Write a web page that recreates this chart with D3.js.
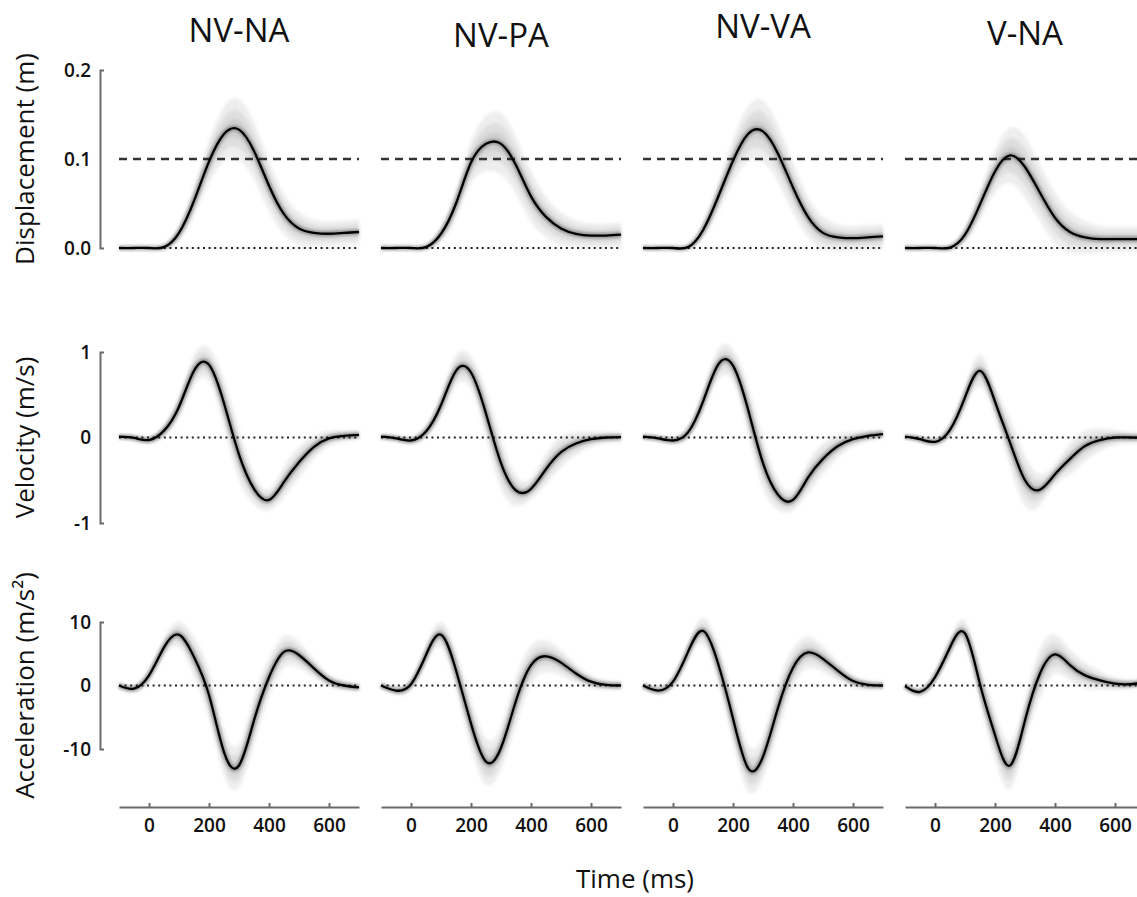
<!DOCTYPE html>
<html>
<head>
<meta charset="utf-8">
<script src="https://cdn.jsdelivr.net/npm/d3@7"></script>
<style>
  body { margin: 0; background: #fff; }
  svg { display: block; font-family: "Open Sans", sans-serif; }
</style>
</head>
<body>
<svg id="chart" width="1137" height="897"></svg>
<script>
/* SECTION: data */

var conditions = ["NV-NA", "NV-PA", "NV-VA", "V-NA"];
var timeMs = [-100, -50, 0, 50, 100, 150, 200, 250, 300, 350, 400, 450, 500, 550, 600, 650, 700];
var timeTicks = [0, 200, 400, 600];

// mean displacement (m)
var dispNVNA = [0, 0, 0, 0.001, 0.017, 0.053, 0.097, 0.128, 0.133, 0.109, 0.070, 0.038, 0.022, 0.017, 0.016, 0.017, 0.018];
var dispNVPA = [0, 0, 0, 0.001, 0.016, 0.050, 0.096, 0.117, 0.117, 0.093, 0.058, 0.035, 0.022, 0.016, 0.014, 0.014, 0.015];
var dispNVVA = [0, 0, 0, 0.001, 0.020, 0.057, 0.098, 0.128, 0.131, 0.106, 0.068, 0.035, 0.017, 0.012, 0.011, 0.012, 0.013];
var dispVNA  = [0, 0, 0, 0.0005, 0.015, 0.049, 0.086, 0.104, 0.091, 0.062, 0.034, 0.018, 0.012, 0.010, 0.010, 0.010, 0.010];

// mean velocity (m/s)
var velNVNA = [0.01, -0.005, -0.03, 0.08, 0.36, 0.78, 0.85, 0.40, -0.20, -0.60, -0.73, -0.52, -0.29, -0.11, -0.01, 0.02, 0.03];
var velNVPA = [0.01, -0.01, -0.035, 0.07, 0.38, 0.78, 0.76, 0.28, -0.30, -0.62, -0.60, -0.37, -0.17, -0.07, -0.02, 0, 0.005];
var velNVVA = [0.01, -0.01, -0.035, 0.06, 0.42, 0.85, 0.84, 0.33, -0.30, -0.67, -0.73, -0.47, -0.25, -0.10, -0.02, 0.02, 0.04];
var velVNA  = [0.01, -0.02, -0.05, 0.09, 0.47, 0.78, 0.42, -0.06, -0.50, -0.61, -0.43, -0.25, -0.10, -0.03, 0, 0, 0];

// mean acceleration (m/s²)
var accNVNA = [0, -0.5, 1.6, 6.0, 8.0, 4.5, -1.5, -10.5, -12.6, -5.5, 1.3, 5.3, 4.8, 2.7, 0.8, 0, -0.3];
var accNVPA = [0, -0.8, 0.2, 4.8, 8.0, 2.4, -6.0, -12.0, -9.8, -2.4, 3.2, 4.6, 3.6, 1.9, 0.6, 0.1, 0];
var accNVVA = [0, -0.8, 0.6, 5.3, 8.6, 3.5, -5.2, -13.0, -11.2, -3.5, 2.8, 5.2, 4.2, 2.3, 0.7, 0.1, 0];
var accVNA  = [-0.1, -1.0, 1.3, 6.0, 8.2, 0.2, -7.8, -12.6, -5.5, 1.9, 4.9, 3.2, 1.6, 0.8, 0.3, 0.2, 0.5];

// rough half-width of the grey single-trial bundle, per row
var dispSpread = [0, 0, 0, 0.002, 0.008, 0.015, 0.021, 0.027, 0.030, 0.028, 0.025, 0.020, 0.016, 0.013, 0.012, 0.012, 0.012];
var velSpread  = [0.02, 0.03, 0.04, 0.07, 0.12, 0.16, 0.17, 0.25, 0.26, 0.16, 0.11, 0.16, 0.16, 0.12, 0.08, 0.06, 0.05];
var accSpread  = [0.5, 0.6, 0.9, 1.3, 1.8, 2.7, 3.4, 3.2, 3.0, 3.4, 2.7, 2.2, 1.8, 1.3, 0.9, 0.7, 0.6];

var dispTicks = [0, 0.1, 0.2], dispTickLabels = ["0.0", "0.1", "0.2"];
var velTicks = [-1, 0, 1], velTickLabels = ["-1", "0", "1"];
var accTicks = [-10, 0, 10], accTickLabels = ["-10", "0", "10"];

/* SECTION: layout */

var svg = d3.select("#chart");
var colX0 = 119, colStep = 262, colW = 240;
var titleBase = [42, 47, 38, 45];
var axisGrey = "#6b6b6b";

var rows = [
  { label: "Displacement (m)", domain: [0, 0.2], range: [248, 70], ticks: dispTicks, tickLabels: dispTickLabels,
    series: [dispNVNA, dispNVPA, dispNVVA, dispVNA], spread: dispSpread, threshold: 0.1 },
  { label: "Velocity (m/s)", domain: [-1, 1], range: [523, 352], ticks: velTicks, tickLabels: velTickLabels,
    series: [velNVNA, velNVPA, velNVVA, velVNA], spread: velSpread },
  { label: "Acceleration (m/s\u00B2)", domain: [-10, 10], range: [749, 622], ticks: accTicks, tickLabels: accTickLabels,
    series: [accNVNA, accNVPA, accNVVA, accVNA], spread: accSpread }
];

var defs = svg.append("defs");
defs.append("filter").attr("id", "soft").attr("x", "-10%").attr("y", "-10%").attr("width", "120%").attr("height", "120%")
  .append("feGaussianBlur").attr("stdDeviation", 1.6);
defs.append("filter").attr("id", "halo").attr("x", "-10%").attr("y", "-10%").attr("width", "120%").attr("height", "120%")
  .append("feGaussianBlur").attr("stdDeviation", 1.2);

function xScale(c) {
  return d3.scaleLinear().domain([-100, 700]).range([colX0 + colStep * c, colX0 + colStep * c + colW]);
}

// column titles
svg.selectAll("text.title").data(conditions).enter().append("text")
  .attr("class", "title")
  .attr("x", function(d, i) { return colX0 + colStep * i + colW / 2; })
  .attr("y", function(d, i) { return titleBase[i]; })
  .attr("text-anchor", "middle")
  .attr("font-size", 33).attr("font-weight", 500).attr("fill", "#111")
  .text(function(d) { return d; });

rows.forEach(function(row, r) {
  var y = d3.scaleLinear().domain(row.domain).range(row.range);

  // y axis on the first column only: bracket with end nubs
  var yAxis = d3.axisLeft(y).tickValues(row.ticks)
    .tickFormat(function(d, i) { return row.tickLabels[i]; })
    .tickSizeInner(0).tickSizeOuter(-4).tickPadding(9);
  var gy = svg.append("g").attr("transform", "translate(100,0)").call(yAxis);
  gy.attr("font-size", null).attr("font-family", null);
  gy.select(".domain").attr("stroke", axisGrey).attr("stroke-width", 2);
  gy.selectAll("text").attr("font-size", 19).attr("font-weight", 600).attr("fill", "#111");

  var yMid = (row.range[0] + row.range[1]) / 2;
  svg.append("text")
    .attr("transform", "translate(34," + yMid + ") rotate(-90)")
    .attr("text-anchor", "middle")
    .attr("font-size", 26).attr("fill", "#111")
    .text(row.label);

  row.series.forEach(function(vals, c) {
    var x = xScale(c);
    var g = svg.append("g");
    var pts = timeMs.map(function(t, i) { return { t: t, v: vals[i], s: row.spread[i] }; });

    // grey bundle of single trials, drawn as soft bands
    [1.15, 0.7, 0.35].forEach(function(k) {
      var band = d3.area()
        .x(function(d) { return x(d.t); })
        .y0(function(d) { return y(d.v - d.s * k); })
        .y1(function(d) { return y(d.v + d.s * k); })
        .curve(d3.curveNatural);
      g.append("path").datum(pts).attr("d", band)
        .attr("fill", "#000").attr("fill-opacity", 0.065)
        .attr("filter", "url(#soft)");
    });

    // zero reference (dotted)
    g.append("line")
      .attr("x1", x(-100)).attr("x2", x(700))
      .attr("y1", y(0)).attr("y2", y(0))
      .attr("stroke", "#222").attr("stroke-width", 2).attr("stroke-dasharray", "2,3.6");

    // 0.1 m target (dashed)
    if (row.threshold !== undefined) {
      g.append("line")
        .attr("x1", x(-100)).attr("x2", x(700))
        .attr("y1", y(row.threshold)).attr("y2", y(row.threshold))
        .attr("stroke", "#333").attr("stroke-width", 2.4).attr("stroke-dasharray", "8,6");
    }

    var line = d3.line()
      .x(function(d) { return x(d.t); })
      .y(function(d) { return y(d.v); })
      .curve(d3.curveNatural);

    g.append("path").datum(pts).attr("d", line)
      .attr("fill", "none").attr("stroke", "#000").attr("stroke-opacity", 0.25)
      .attr("stroke-width", 6).attr("filter", "url(#halo)");
    g.append("path").datum(pts).attr("d", line)
      .attr("fill", "none").attr("stroke", "#000").attr("stroke-width", 2.3);
  });
});

// time axes under the bottom row
conditions.forEach(function(cond, c) {
  var x = xScale(c);
  var xAxis = d3.axisBottom(x).tickValues(timeTicks).tickSizeInner(-4).tickSizeOuter(0).tickPadding(12);
  var gx = svg.append("g").attr("transform", "translate(0,807)").call(xAxis);
  gx.attr("font-size", null).attr("font-family", null);
  gx.select(".domain").attr("stroke", axisGrey).attr("stroke-width", 2);
  gx.selectAll(".tick line").attr("stroke", axisGrey).attr("stroke-width", 2);
  gx.selectAll("text").attr("font-size", 19).attr("font-weight", 600).attr("fill", "#111");
});

svg.append("text")
  .attr("x", 635).attr("y", 888)
  .attr("text-anchor", "middle")
  .attr("font-size", 26).attr("fill", "#111")
  .text("Time (ms)");
</script>
</body>
</html>
